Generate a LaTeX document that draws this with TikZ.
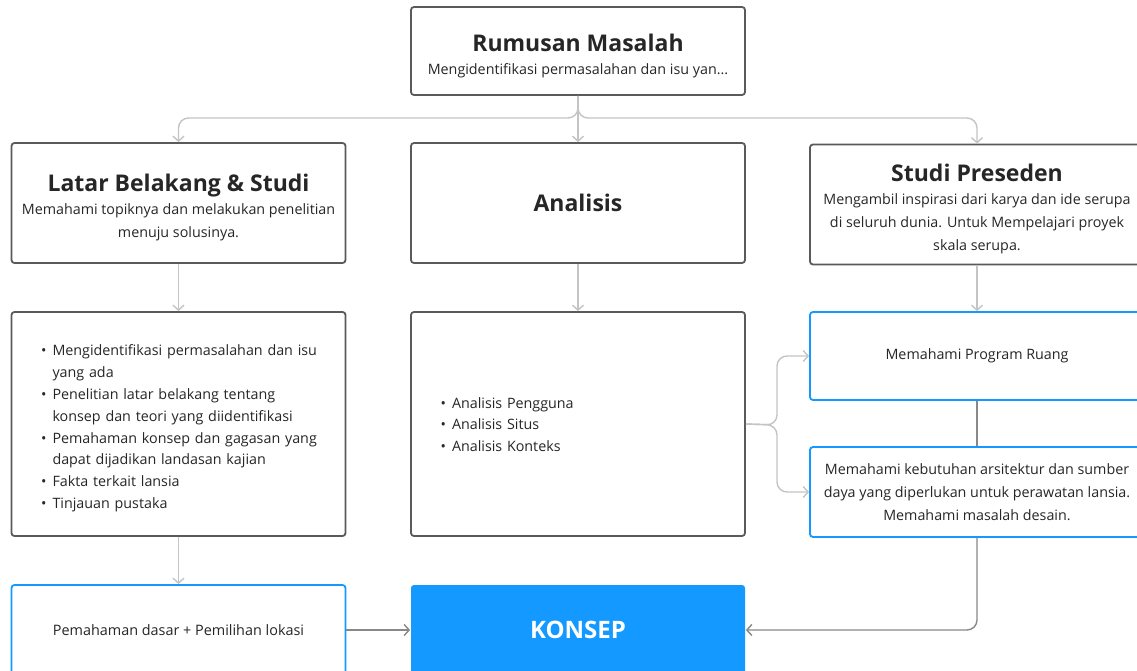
\documentclass[tikz,border=0pt]{standalone}
\usepackage{fontspec}
\setmainfont{Open Sans}
\usepackage{enumitem}
\usetikzlibrary{arrows.meta}
\definecolor{boxline}{HTML}{5A5A5A}
\definecolor{linklight}{HTML}{C4C4C4}
\definecolor{linkdark}{HTML}{888888}
\definecolor{konsepblue}{HTML}{1399FF}
\definecolor{textgray}{HTML}{262626}
\newcommand{\bigtitle}[1]{{\fontsize{23}{27}\selectfont\bfseries #1}}
\newcommand{\headline}[1]{\rule{0pt}{27pt}\bigtitle{#1}}
\newcommand{\smalltext}{\fontsize{14.3}{23}\selectfont}
\newcommand{\listtext}{\fontsize{14.3}{21.8}\selectfont}
\newlist{pointlist}{itemize}{1}
\setlist[pointlist]{label=\textbullet,leftmargin=13pt,labelsep=6pt,itemsep=0pt,topsep=0pt,parsep=0pt,partopsep=0pt}

\begin{document}
\begin{tikzpicture}[x=1pt,y=-1pt]
\tikzstyle{every node}+=[text=textgray,font=\smalltext]
\tikzstyle{box}=[draw=boxline,line width=1.8pt,rounded corners=3pt,minimum width=334pt,align=center,inner sep=0pt,fill=white]
\tikzstyle{listbox}=[box,minimum height=224pt,text width=278pt,inner xsep=28pt,align=left,font=\listtext]
\tikzstyle{bluebox}=[box,draw=konsepblue]
\tikzstyle{arr}=[draw=linklight,line width=1.4pt,-{Straight Barb[length=5pt,width=11pt]}]
\tikzstyle{arrdark}=[arr,draw=linkdark]
\clip (0,0) rectangle (1137,671);
\fill[white] (0,0) rectangle (1137,671);

\node[box,minimum height=88pt] (rumusan) at (578,51) {\headline{Rumusan Masalah}\\Mengidentifikasi permasalahan dan isu yan...};
\node[box,minimum height=120pt] (latar) at (178.5,203) {\headline{Latar Belakang \& Studi}\\Memahami topiknya dan melakukan penelitian\\menuju solusinya.};
\node[box,minimum height=120pt] (analisis) at (578,203) {\bigtitle{Analisis}};
\node[box,minimum height=120pt] (studi) at (977,204.5) {\headline{Studi Preseden}\\Mengambil inspirasi dari karya dan ide serupa\\di seluruh dunia. Untuk Mempelajari proyek\\skala serupa.};

\node[listbox] (teori) at (178.5,424) {\begin{pointlist}
\item Mengidentifikasi permasalahan dan isu\\yang ada
\item Penelitian latar belakang tentang\\konsep dan teori yang diidentifikasi
\item Pemahaman konsep dan gagasan yang\\dapat dijadikan landasan kajian
\item Fakta terkait lansia
\item Tinjauan pustaka
\end{pointlist}\par\vspace{2pt}};
\node[listbox] (metode) at (578,424) {\begin{pointlist}
\item Analisis Pengguna
\item Analisis Situs
\item Analisis Konteks
\end{pointlist}\par\vspace{10pt}};

\node[bluebox,minimum height=88pt] (program) at (977,356) {Memahami Program Ruang};
\node[bluebox,minimum height=90pt] (kebutuhan) at (977,492) {Memahami kebutuhan arsitektur dan sumber\\daya yang diperlukan untuk perawatan lansia.\\Memahami masalah desain.};
\node[bluebox,minimum height=90pt,font=\fontsize{14.4}{16}\selectfont] (dasar) at (178.5,630) {Pemahaman dasar + Pemilihan lokasi};
\node[box,draw=none,fill=konsepblue,minimum height=90pt,text=white,font=\fontsize{24}{28}\selectfont\bfseries] (konsep) at (578,630) {KONSEP};

\coordinate (bus) at (578,118);
\coordinate (fork) at (777,425);
\draw[arr,rounded corners=10pt] (rumusan.south) |- (bus -| latar.north) -- (latar.north);
\draw[arr,rounded corners=10pt] (rumusan.south) |- (bus -| studi.north) -- (studi.north);
\draw[arr] (rumusan.south) -- (analisis.north);
\draw[arr] (latar.south) -- (teori.north);
\draw[arr] (analisis.south) -- (metode.north);
\draw[arr] (studi.south) -- (program.north);
\draw[arr,rounded corners=10pt] (metode.east) -- (fork) |- (program.west);
\draw[arr,rounded corners=10pt] (metode.east) -- (fork) |- (kebutuhan.west);
\draw[arrdark,-] (program.south) -- (kebutuhan.north);
\draw[arrdark,rounded corners=10pt] (kebutuhan.south) |- (konsep.east);
\draw[arr] (teori.south) -- (dasar.north);
\draw[arrdark] (dasar.east) -- (konsep.west);
\end{tikzpicture}
\end{document}
